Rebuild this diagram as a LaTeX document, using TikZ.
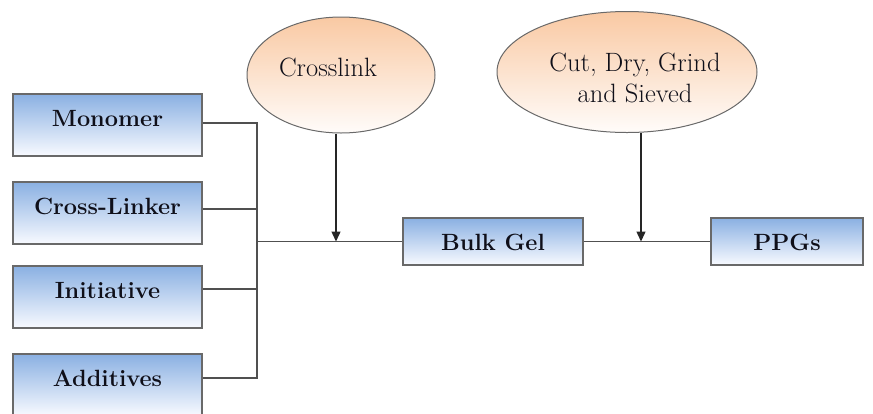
\documentclass[tikz,border=0pt]{standalone}
\usetikzlibrary{arrows.meta,shapes.geometric}
\definecolor{boxtop}{RGB}{138,176,226}
\definecolor{boxbot}{RGB}{248,250,255}
\definecolor{boxline}{RGB}{105,105,105}
\definecolor{elltop}{RGB}{249,201,163}
\definecolor{ellbot}{RGB}{255,252,250}
\definecolor{wire}{RGB}{80,80,80}
\definecolor{txt}{RGB}{15,15,25}
\begin{document}
\begin{tikzpicture}[x=1pt,y=-1pt,
  boxnode/.style={rectangle, draw=boxline, line width=1.6pt, top color=boxtop, bottom color=boxbot,
    inner sep=0pt, text=txt, font=\fontsize{23.5}{28}\selectfont\bfseries},
  leftbox/.style={boxnode, minimum width=189pt, text height=32pt, text depth=30pt},
  midbox/.style={boxnode, text height=32pt, text depth=15pt},
  ellnode/.style={ellipse, draw=boxline, line width=1pt, top color=elltop, bottom color=ellbot, inner sep=0pt},
  elltext/.style={text=txt, font=\fontsize{26.5}{31}\selectfont, align=center, inner sep=0pt},
  wireline/.style={draw=wire, line width=1.1pt},
  arr/.style={draw=black!85, line width=1.4pt, -{Triangle[length=10pt,width=9pt]}}
]
\useasboundingbox (0,0) rectangle (873,413);

% left boxes
\node[leftbox] (mono) at (107.5,125) {Monomer};
\node[leftbox] (cross) at (107.5,213) {Cross-Linker};
\node[leftbox] (ini) at (107.5,297) {Initiative};
\node[leftbox] (add) at (107.5,385) {Additives};

% middle and right boxes
\node[midbox, minimum width=180pt] (bulk) at (493,241.5) {Bulk Gel};
\node[midbox, minimum width=152pt] (ppg) at (787,241.5) {PPGs};

% ellipses
\node[ellnode, minimum width=188pt, minimum height=116pt] (cl) at (341,75) {};
\node[elltext] (cltxt) at (328,67) {Crosslink};
\node[ellnode, minimum width=260pt, minimum height=121pt] (cut) at (627,72) {};
\node[elltext] (cuttxt) at (635,78) {Cut, Dry, Grind\\and Sieved};

% junction and arrow ends
\coordinate (vx) at (257,241.5);
\coordinate (a1) at (336,241.5);
\coordinate (a2) at (641,241.5);

% connectors
\draw[wireline] ([yshift=2pt]mono.east) -| (vx);
\draw[wireline] ([yshift=4pt]cross.east) -| (vx);
\draw[wireline] ([yshift=8pt]ini.east) -| (vx);
\draw[wireline] ([yshift=7pt]add.east) -| (vx);
\draw[wireline] (vx) -- (bulk.west);
\draw[wireline] (bulk.east) -- (ppg.west);
\draw[arr] ([xshift=-5pt]cl.south) -- (a1);
\draw[arr] ([xshift=14pt]cut.south) -- (a2);
\end{tikzpicture}
\end{document}
